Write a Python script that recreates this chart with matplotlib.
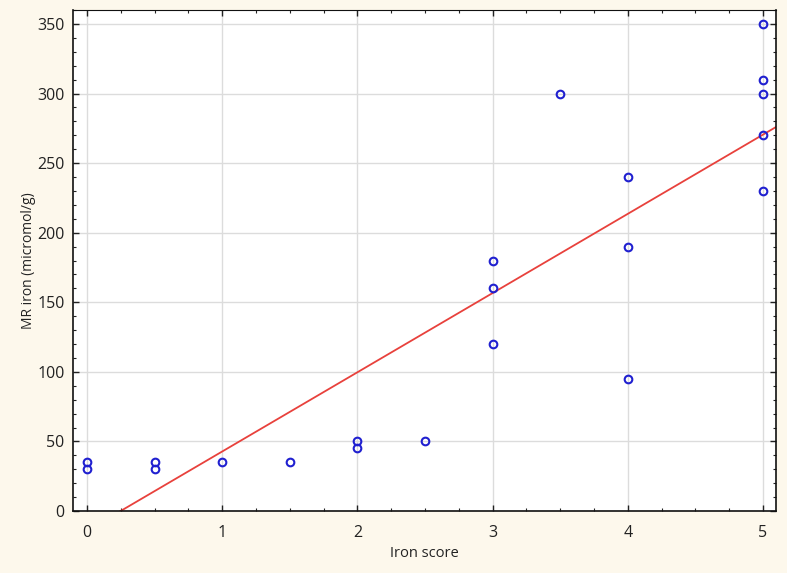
import numpy as np
import matplotlib
matplotlib.use("Agg")
import matplotlib.pyplot as plt
from matplotlib.ticker import MultipleLocator

iron_score = [0, 0, 0.5, 0.5, 1, 1.5, 2, 2, 2.5, 3, 3, 3, 3.5, 4, 4, 4, 5, 5, 5, 5, 5]
mr_iron = [35, 30, 35, 30, 35, 35, 50, 45, 50, 180, 160, 120, 300, 240, 190, 95, 350, 310, 300, 270, 230]

bg = "#fdf8ec"
plt.rcParams['font.family'] = ['Open Sans', 'DejaVu Sans']
fig = plt.figure(figsize=(7.87, 5.73), dpi=100, facecolor=bg)
ax = fig.add_axes([0.0928, 0.1082, 0.8932, 0.8743])
ax.set_facecolor("white")

x = np.array(iron_score)
y = np.array(mr_iron)
slope, intercept = np.polyfit(x, y, 1)
xl = np.array([-0.104, 5.096])
ax.plot(xl, slope * xl + intercept, color="#e8413c", lw=1.3, zorder=2)
ax.plot(x, y, linestyle="none", marker="o", ms=5.5, mfc="none", mec="#2020d0", mew=1.5, zorder=3)

ax.set_xlim(-0.104, 5.096)
ax.set_ylim(0, 360)
ax.xaxis.set_major_locator(MultipleLocator(1))
ax.xaxis.set_minor_locator(MultipleLocator(0.25))
ax.yaxis.set_major_locator(MultipleLocator(50))
ax.yaxis.set_minor_locator(MultipleLocator(10))
ax.grid(True, which="major", color="#dcdcdc", lw=1.0, zorder=0)
ax.set_axisbelow(True)
ax.tick_params(which="both", direction="in", top=True, right=True, colors="#222222",
               labelsize=11.5, labelcolor="#222222")
ax.tick_params(which="major", length=4, width=1)
ax.tick_params(which="minor", length=2.5, width=0.8)
ax.tick_params(axis="x", pad=10)
ax.tick_params(axis="y", pad=6)
for s in ax.spines.values():
    s.set_color("#111111")
    s.set_linewidth(1.2)
ax.spines["top"].set_linewidth(0.8)
ax.set_xlabel("Iron score", fontsize=10.5, color="#222222", labelpad=3.5)
ax.set_ylabel("MR iron (micromol/g)", fontsize=10, color="#222222", labelpad=1)

fig.savefig("out.png", dpi=100, facecolor=bg)
